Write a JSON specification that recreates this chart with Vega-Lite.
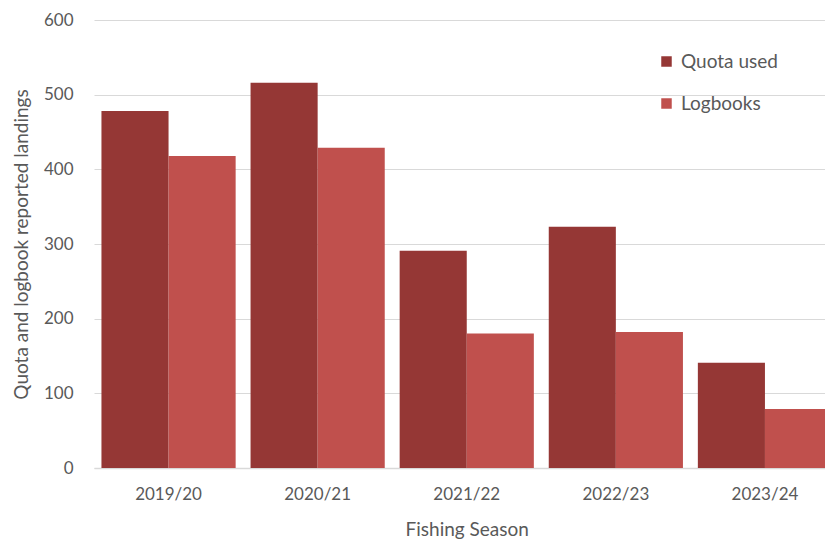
{
  "$schema": "https://vega.github.io/schema/vega-lite/v6.json",
  "autosize": {"type": "none"},
  "width": 731,
  "height": 448,
  "padding": {"left": 94, "top": 20, "right": 0, "bottom": 73},
  "background": "white",
  "config": {
    "font": "Lato",
    "view": {"stroke": null},
    "axis": {"labelColor": "#595959", "titleColor": "#595959", "titleFontWeight": "normal"}
  },
  "data": {
    "values": [
      {"season": "2019/20", "type": "Quota used", "value": 478},
      {"season": "2019/20", "type": "Logbooks", "value": 418},
      {"season": "2020/21", "type": "Quota used", "value": 516},
      {"season": "2020/21", "type": "Logbooks", "value": 429},
      {"season": "2021/22", "type": "Quota used", "value": 291},
      {"season": "2021/22", "type": "Logbooks", "value": 180},
      {"season": "2022/23", "type": "Quota used", "value": 323},
      {"season": "2022/23", "type": "Logbooks", "value": 182},
      {"season": "2023/24", "type": "Quota used", "value": 141},
      {"season": "2023/24", "type": "Logbooks", "value": 79}
    ]
  },
  "mark": {"type": "bar"},
  "encoding": {
    "x": {
      "field": "season", "type": "nominal", "sort": null,
      "scale": {"range": [0, 745.5], "paddingInner": 0.1, "paddingOuter": 0.05},
      "axis": {
        "title": "Fishing Season", "labelAngle": 0, "labelFontSize": 17, "titleFontSize": 19,
        "ticks": false, "labelPadding": 18, "titlePadding": 18,
        "domainColor": "#d9d9d9", "domainWidth": 1.5, "grid": false
      }
    },
    "xOffset": {
      "field": "type", "type": "nominal", "sort": ["Quota used", "Logbooks"],
      "scale": {"paddingInner": 0, "paddingOuter": 0}
    },
    "y": {
      "field": "value", "type": "quantitative",
      "scale": {"domain": [0, 600]},
      "axis": {
        "title": "Quota and logbook reported landings", "values": [0, 100, 200, 300, 400, 500, 600],
        "labelFontSize": 17, "titleFontSize": 19, "ticks": false, "domain": false,
        "labelPadding": 21, "titlePadding": 12,
        "gridColor": "#d9d9d9", "gridWidth": 1
      }
    },
    "color": {
      "field": "type", "type": "nominal",
      "scale": {"domain": ["Quota used", "Logbooks"], "range": ["#953735", "#C0504D"]},
      "legend": {
        "title": null, "orient": "none", "legendX": 563, "legendY": 32,
        "symbolType": "square", "symbolSize": 110, "symbolStrokeWidth": 0,
        "labelFontSize": 19, "labelColor": "#595959", "rowPadding": 22, "labelOffset": 5
      }
    }
  }
}
